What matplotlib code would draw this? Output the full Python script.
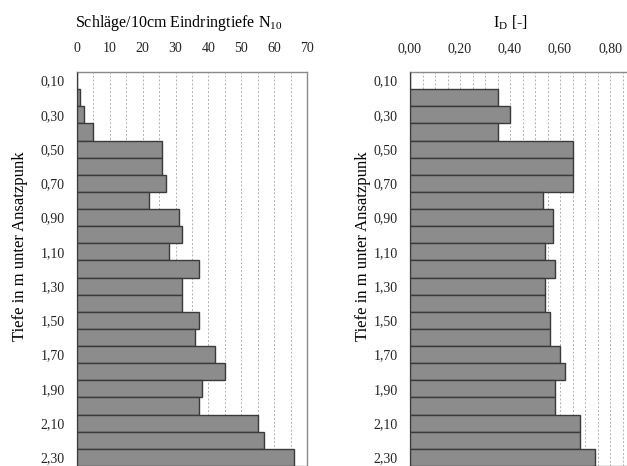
import matplotlib
matplotlib.use("Agg")
import matplotlib.pyplot as plt
from matplotlib.ticker import FuncFormatter, MultipleLocator

plt.rcParams['font.family'] = ['Liberation Serif', 'DejaVu Serif']
plt.rcParams['mathtext.fontset'] = 'custom'
plt.rcParams['mathtext.rm'] = 'Liberation Serif'

# depth categories (m below starting point)
depths = [0.1, 0.2, 0.3, 0.4, 0.5, 0.6, 0.7, 0.8, 0.9, 1.0, 1.1, 1.2,
          1.3, 1.4, 1.5, 1.6, 1.7, 1.8, 1.9, 2.0, 2.1, 2.2, 2.3]
# blows per 10 cm penetration N10
n10 = [0, 1, 2, 5, 26, 26, 27, 22, 31, 32, 28, 37,
       32, 32, 37, 36, 42, 45, 38, 37, 55, 57, 66]
# density index I_D
i_d = [0, 0.35, 0.40, 0.35, 0.65, 0.65, 0.65, 0.53, 0.57, 0.57, 0.54, 0.58,
       0.54, 0.54, 0.56, 0.56, 0.60, 0.62, 0.58, 0.58, 0.68, 0.68, 0.74]
depth_ticks = [0.1, 0.3, 0.5, 0.7, 0.9, 1.1, 1.3, 1.5, 1.7, 1.9, 2.1, 2.3]
n10_ticks = [0, 10, 20, 30, 40, 50, 60, 70]
id_ticks = [0.0, 0.2, 0.4, 0.6, 0.8]

W, H = 627, 466
fig = plt.figure(figsize=(W / 100, H / 100), dpi=100)

top = 72
ax1 = fig.add_axes([77 / W, 0, 230 / W, 1 - top / H])
ax2 = fig.add_axes([410 / W, 0, 250 / W, 1 - top / H])


def comma(fmt):
    return FuncFormatter(lambda v, p: (fmt % v).replace('.', ','))


def style(ax, values, xmax, ticks, minor, xfmt):
    ax.barh(depths, values, height=0.1, color='#8c8c8c',
            edgecolor='#3a3a3a', linewidth=1.0, zorder=3)
    ax.set_ylim(2.35, 0.05)
    ax.set_xlim(0, xmax)
    ax.xaxis.tick_top()
    ax.set_xticks(ticks)
    ax.xaxis.set_minor_locator(MultipleLocator(minor))
    ax.xaxis.set_major_formatter(xfmt)
    ax.set_yticks(depth_ticks)
    ax.yaxis.set_major_formatter(comma('%.2f'))
    ax.tick_params(axis='x', length=0, pad=12, labelsize=10, colors='#222222')
    ax.tick_params(axis='x', which='minor', length=0)
    ax.tick_params(axis='y', length=0, pad=9, labelsize=10, colors='#222222')
    ax.grid(axis='x', which='both', color='#b0b0b0', linestyle=(0, (2, 2)),
            linewidth=0.7, zorder=0)
    for s in ax.spines.values():
        s.set_color('#8a8a8a')
        s.set_linewidth(1.0)


style(ax1, n10, 70, n10_ticks, 5, FuncFormatter(lambda v, p: '%d' % v))
style(ax2, i_d, 1.0, id_ticks, 0.05, comma('%.2f'))

fig.text(179 / W, 1 - 23 / H, 'Schläge/10cm Eindringtiefe N$_\\mathrm{10}$',
         ha='center', va='center', fontsize=11.5)
fig.text(510 / W, 1 - 23 / H, 'I$_\\mathrm{D}$ [-]',
         ha='center', va='center', fontsize=11.5)

ylabel = 'Tiefe in m unter Ansatzpunk'
fig.text(20 / W, 1 - 246 / H, ylabel, rotation=90, ha='center', va='center', fontsize=12)
fig.text(363 / W, 1 - 246 / H, ylabel, rotation=90, ha='center', va='center', fontsize=12)

fig.savefig('out.png', dpi=100)
